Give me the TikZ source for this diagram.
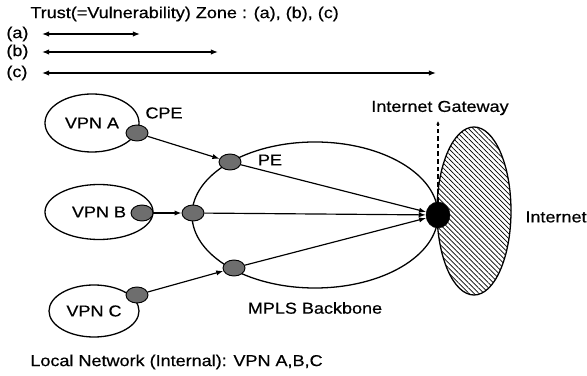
\documentclass[tikz,border=0pt]{standalone}
\usepackage{fontspec}
\setmainfont{Liberation Sans}[FakeStretch=1.14, FakeBold=0.5]
\usetikzlibrary{arrows.meta, positioning, shapes.geometric, patterns.meta}
\definecolor{cpegray}{RGB}{110,110,110}

\tikzset{
  lbl/.style={font=\fontsize{13.5}{16}\selectfont, inner sep=1pt},
  site/.style={draw, ellipse, line width=1.1pt, inner sep=0pt, font=\fontsize{13.5}{16}\selectfont},
  edge/.style={draw, ellipse, fill=cpegray, line width=0.8pt, minimum width=0.66cm, minimum height=0.48cm, inner sep=0pt},
  link/.style={-{Latex[length=6pt,width=4.5pt]}, line width=1pt},
  zone/.style={{Latex[length=6pt,width=4.5pt]}-{Latex[length=6pt,width=4.5pt]}, line width=1pt}
}

\begin{document}
\begin{tikzpicture}[x=0.03cm, y=-0.03cm]
    \useasboundingbox (0,0) rectangle (587,376);

    % zones
    \node[lbl, anchor=west] (title) at (29,14) {Trust(=Vulnerability) Zone : (a), (b), (c)};
    \node[lbl, anchor=west] (za) at (5,34) {(a)};
    \node[lbl, anchor=west] (zb) at (5,52) {(b)};
    \node[lbl, anchor=west] (zc) at (5,73) {(c)};
    \coordinate (za0) at (42,34);  \coordinate (za1) at (140,34);
    \coordinate (zb0) at (42,52);  \coordinate (zb1) at (218,52);
    \coordinate (zc0) at (42,73);  \coordinate (zc1) at (436,73);
    \draw[zone] (za0) -- (za1);
    \draw[zone] (zb0) -- (zb1);
    \draw[zone] (zc0) -- (zc1);

    % backbone and internet
    \node[draw, ellipse, line width=1.1pt, inner sep=0pt, minimum width=7.38cm, minimum height=4.38cm] (mpls) at (315,215) {};
    \node[lbl] (mplsLabel) at (315,308) {MPLS Backbone};
    \node[draw, ellipse, line width=1.1pt, inner sep=0pt, minimum width=2.22cm, minimum height=5.04cm,
          pattern={Lines[angle=-45, distance=3pt, line width=0.6pt]}] (inet) at (474,211) {};
    \node[lbl] (inetLabel) at (556,217) {Internet};

    % gateway
    \node[draw, ellipse, fill=black, minimum width=0.72cm, minimum height=0.78cm, inner sep=0pt] (gw) at (438,215) {};
    \node[lbl] (gwLabel) at (440,108) {Internet Gateway};
    \coordinate (gwTop) at (438,121);
    \draw[dash pattern=on 4pt off 2.5pt, line width=1pt, -{Latex[length=3pt,width=3pt]}] (gw.north) -- (gwTop);

    % VPN sites
    \node[site, minimum width=2.82cm, minimum height=1.74cm] (vpnA) at (92,123) {VPN A};
    \node[site, minimum width=3.24cm, minimum height=1.65cm] (vpnB) at (99,212) {VPN B};
    \node[site, minimum width=2.70cm, minimum height=1.56cm] (vpnC) at (94,311) {VPN C};

    % CPE and PE routers
    \node[edge] (cpeA) at (137,133) {};
    \node[edge] (cpeB) at (142,213) {};
    \node[edge] (cpeC) at (137,295) {};
    \node[edge] (peA) at (230,162) {};
    \node[edge] (peB) at (193,213) {};
    \node[edge] (peC) at (234,268) {};
    \node[lbl] (cpeLabel) at (164,113) {CPE};
    \node[lbl] (peLabel) at (270,160) {PE};

    % links
    \draw[link] (cpeA) -- (peA);
    \draw[link] (cpeB) -- (peB);
    \draw[link] (cpeC) -- (peC);
    \draw[link] (peA) -- (gw);
    \draw[link] (peB) -- (gw);
    \draw[link] (peC) -- (gw);

    \node[lbl, anchor=west] (localLabel) at (29,362) {Local Network (Internal): VPN A,B,C};
\end{tikzpicture}
\end{document}
